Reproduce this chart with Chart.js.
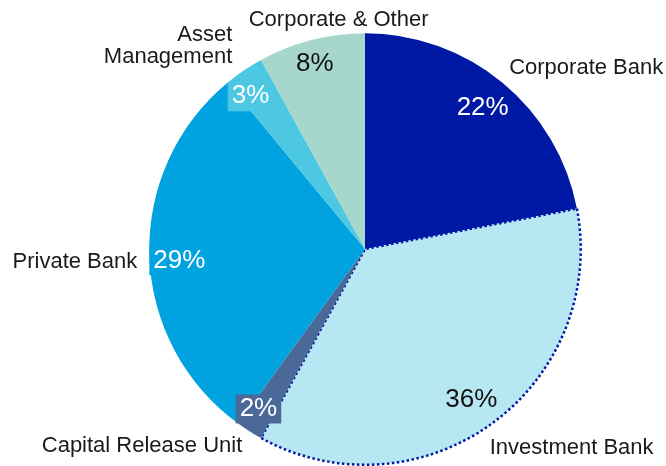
<!DOCTYPE html>
<html>
<head>
<meta charset="utf-8">
<script src="https://cdn.jsdelivr.net/npm/chart.js"></script>
<style>
    body { margin: 0; background: #fff; }
    #grafico { width: 666px; height: 466px; }
</style>
</head>
<body>
<div id="grafico"><canvas id="myChart"></canvas></div>
<script>
// Dados do gráfico
var categorias = ['Corporate Bank', 'Investment Bank', 'Capital Release Unit', 'Private Bank', ['Asset', 'Management'], 'Corporate & Other'];
var valores = [22, 36, 2, 29, 3, 8];
var rotulos = ['22%', '36%', '2%', '29%', '3%', '8%'];

// Estilo
var cores = ['#0019A5', '#B7E7F3', '#4A6898', '#00A3E0', '#4CC8E2', '#A7D6CC'];
var corTexto = ['#ffffff', '#111111', '#ffffff', '#ffffff', '#ffffff', '#111111'];
var bordas = [0, 2.5, 0, 0, 0, 0];

// posição dos nomes (fora da pizza), ajuste em px a partir do meio da fatia
var alinhamento = ['left', 'left', 'right', 'right', 'right', 'center'];
var ajusteX = [-3, -11, 1, 3, -3, 31];
var ajusteY = [-3, 12, 2.5, 6, -12, -5];
// ajuste dos percentuais (dentro da fatia)
var pctX = [-2, -4, -6, 2, -9, -3.5];
var pctY = [2.5, -2, 0, 4.5, 1.5, -4.5];

const rotulosPlugin = {
    id: 'rotulos',
    afterDatasetsDraw(chart) {
        const ctx = chart.ctx;
        const meta = chart.getDatasetMeta(0);
        meta.data.forEach(function (arco, i) {
            const meio = (arco.startAngle + arco.endAngle) / 2;
            const r = arco.outerRadius;

            // percentual dentro da fatia
            ctx.save();
            ctx.font = '26px "Liberation Sans", Arial';
            ctx.textAlign = 'center';
            ctx.textBaseline = 'middle';
            var px = arco.x + Math.cos(meio) * r * 0.87 + pctX[i];
            var py = arco.y + Math.sin(meio) * r * 0.87 + pctY[i];
            var larg = ctx.measureText(rotulos[i]).width;
            ctx.fillStyle = cores[i];
            ctx.fillRect(px - larg / 2 - 4, py - 13, larg + 8, 29);
            ctx.fillStyle = corTexto[i];
            ctx.fillText(rotulos[i], px, py + 1);

            // nome da categoria
            ctx.font = '22px "Liberation Sans", Arial';
            ctx.fillStyle = '#1a1a1a';
            ctx.textAlign = alinhamento[i];
            var nx = arco.x + Math.cos(meio) * r * 1.07 + ajusteX[i];
            var ny = arco.y + Math.sin(meio) * r * 1.07 + ajusteY[i];
            var linhas = Array.isArray(categorias[i]) ? categorias[i] : [categorias[i]];
            var inicio = ny - (linhas.length - 1) * 11;
            linhas.forEach(function (linha, j) {
                ctx.fillText(linha, nx, inicio + j * 22);
            });
            ctx.restore();
        });
    }
};

const ctx = document.getElementById('myChart');

new Chart(ctx, {
    type: 'pie',
    data: {
        labels: categorias,
        datasets: [{
            data: valores,
            backgroundColor: cores,
            borderColor: '#0019A5',
            borderWidth: bordas,
            borderDash: [2.5, 2.5]
        }]
    },
    options: {
        responsive: true,
        maintainAspectRatio: false,
        animation: false,
        layout: {
            padding: { left: 148, right: 84, top: 32, bottom: 0 }
        },
        plugins: {
            legend: { display: false },
            tooltip: { enabled: false }
        }
    },
    plugins: [rotulosPlugin]
});
</script>
</body>
</html>
